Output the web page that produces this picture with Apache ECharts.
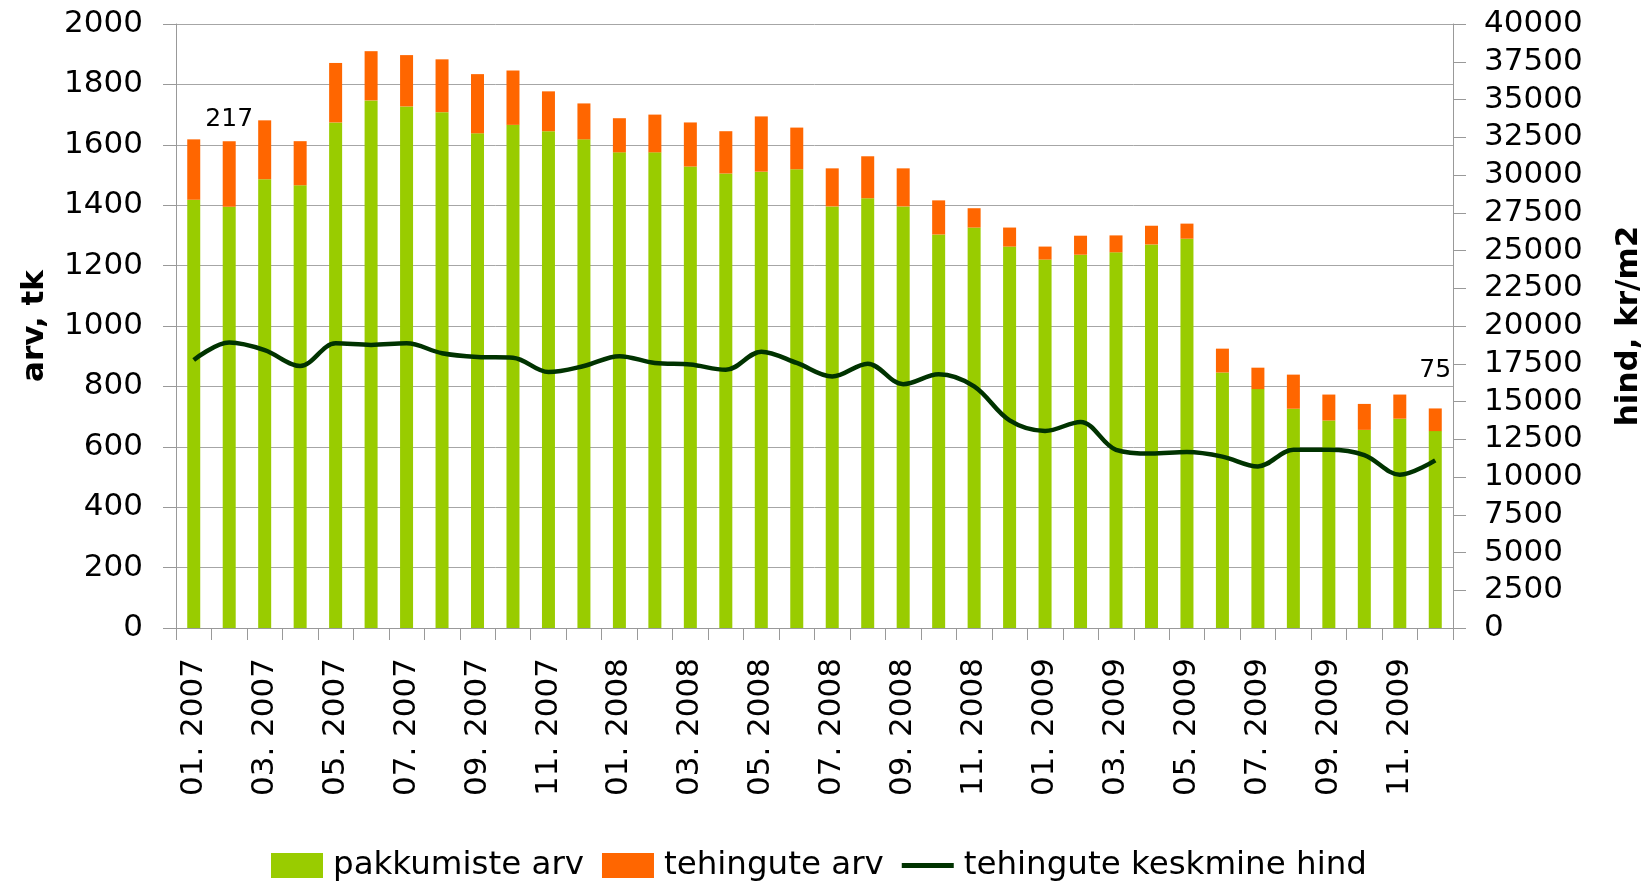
<!DOCTYPE html>
<html><head><meta charset="utf-8">
<script src="https://cdn.jsdelivr.net/npm/echarts@6/dist/echarts.min.js"></script>
<style>html,body{margin:0;padding:0;background:#fff}#c{width:1652px;height:887px}</style>
</head><body><div id="c"></div>
<script>
const categories = ["01. 2007","02. 2007","03. 2007","04. 2007","05. 2007","06. 2007","07. 2007","08. 2007","09. 2007","10. 2007","11. 2007","12. 2007",
"01. 2008","02. 2008","03. 2008","04. 2008","05. 2008","06. 2008","07. 2008","08. 2008","09. 2008","10. 2008","11. 2008","12. 2008",
"01. 2009","02. 2009","03. 2009","04. 2009","05. 2009","06. 2009","07. 2009","08. 2009","09. 2009","10. 2009","11. 2009","12. 2009"];
const pakkumisteArv = [1418,1395,1486,1466,1674,1747,1727,1708,1638,1666,1645,1618,1575,1575,1528,1505,1511,1519,1396,1423,1396,1303,1326,1263,1220,1236,1244,1270,1289,846,791,726,687,656,693,652];
const tehinguteArv = [200,217,195,146,197,163,170,175,196,180,132,119,113,125,146,140,183,138,126,139,126,113,64,63,43,63,56,62,50,79,71,113,86,86,80,75];
const keskmineHind = [17750,18900,18400,17350,18850,18750,18850,18200,17950,17900,16950,17350,18000,17550,17450,17100,18300,17550,16650,17500,16150,16800,16000,13750,13050,13650,11800,11550,11650,11350,10700,11800,11800,11450,10150,11100];
const labelledIdx = {1: 9, 35: 25};

const FONT = 'DejaVu Sans';
const chart = echarts.init(document.getElementById('c'));
const orangeData = tehinguteArv.map((v, i) => labelledIdx[i] !== undefined
  ? {value: v, label: {show: true, position: 'top', distance: labelledIdx[i], color: '#000', fontSize: 25, fontFamily: FONT}}
  : v);
const plain = v => String(v);
chart.setOption({
  animation: false,
  grid: {left: 176, right: 196, top: 24, bottom: 259},
  legend: {
    bottom: 0, left: 266, itemWidth: 52, itemHeight: 25, itemGap: 18,
    textStyle: {fontFamily: FONT, fontSize: 32.5, color: '#000', padding: [0, 0, 0, 5]},
    data: [
      {name: 'pakkumiste arv', icon: 'rect'},
      {name: 'tehingute arv', icon: 'rect'},
      {name: 'tehingute keskmine hind', icon: 'path://M0,0H104V10H0Z'}
    ]
  },
  xAxis: {
    type: 'category', data: categories,
    axisLine: {lineStyle: {color: '#999', width: 1}},
    axisTick: {show: true, interval: 0, length: 12, lineStyle: {color: '#999'}},
    axisLabel: {interval: 1, rotate: 90, margin: 30, color: '#000', fontFamily: FONT, fontSize: 31}
  },
  yAxis: [{
    type: 'value', min: 0, max: 2000, interval: 200,
    name: 'arv, tk', nameLocation: 'middle', nameGap: 126,
    nameTextStyle: {fontFamily: FONT, fontSize: 31, fontWeight: 'bold', color: '#000'},
    axisLine: {show: true, lineStyle: {color: '#999'}},
    axisTick: {show: true, length: 13, lineStyle: {color: '#999'}},
    axisLabel: {margin: 33, color: '#000', fontFamily: FONT, fontSize: 31, formatter: plain},
    splitLine: {lineStyle: {color: '#a6a6a6', width: 1}}
  }, {
    type: 'value', min: 0, max: 40000, interval: 2500, position: 'right',
    name: 'hind, kr/m2', nameLocation: 'middle', nameGap: 160,
    nameTextStyle: {fontFamily: FONT, fontSize: 31, fontWeight: 'bold', color: '#000'},
    axisLine: {show: true, lineStyle: {color: '#999'}},
    axisTick: {show: true, length: 13, lineStyle: {color: '#999'}},
    axisLabel: {margin: 31, color: '#000', fontFamily: FONT, fontSize: 31, formatter: plain},
    splitLine: {show: false}
  }],
  series: [{
    name: 'pakkumiste arv', type: 'bar', stack: 's', barWidth: 13,
    itemStyle: {color: '#99cc00'}, data: pakkumisteArv
  }, {
    name: 'tehingute arv', type: 'bar', stack: 's', barWidth: 13,
    itemStyle: {color: '#ff6600'}, data: orangeData
  }, {
    name: 'tehingute keskmine hind', type: 'line', yAxisIndex: 1, smooth: 0.35,
    symbol: 'none', lineStyle: {color: '#003300', width: 4.5}, itemStyle: {color: '#003300'},
    data: keskmineHind, z: 5
  }]
});
</script></body></html>
